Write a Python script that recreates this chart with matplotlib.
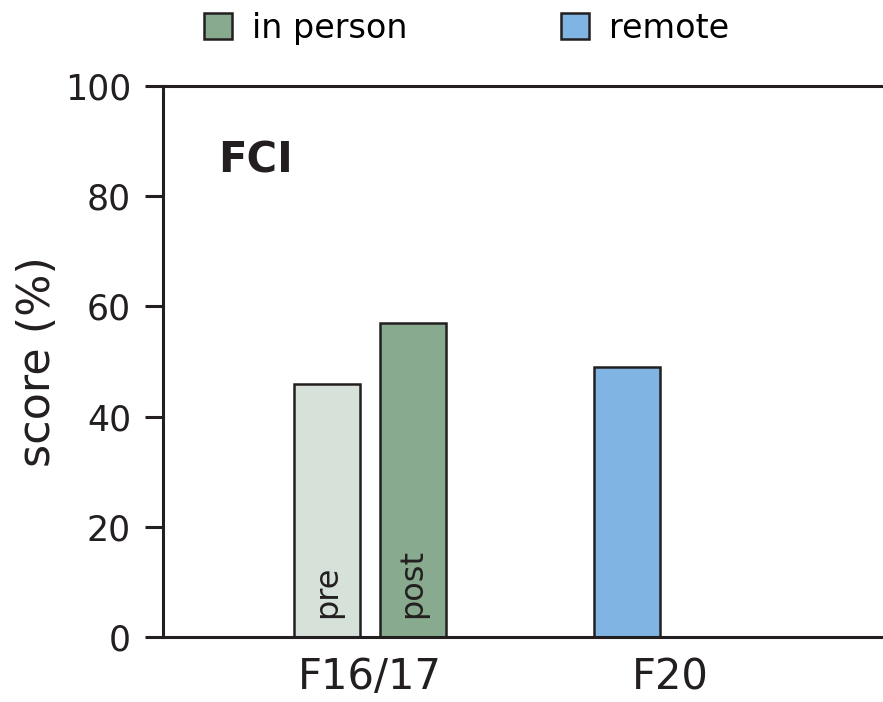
# FCI scores: in person (pre/post) vs remote

import matplotlib.pyplot as plt
from matplotlib.patches import Patch

plt.rcParams['font.family'] = ['DejaVu Sans']

groups = ["F16/17", "F20"]
inperson_pre = 46
inperson_post = 57
remote_pre = 49

c_pre = "#d6e1d9"
c_post = "#88ab8f"
c_remote = "#80b4e2"
edge = "#231f20"

fig = plt.figure(figsize=(8.83, 7.02), dpi=100)
ax = fig.add_axes([0.1846, 0.0926, 0.8154, 0.785])

w = 0.22
off = 0.142
ax.bar(0 - off, inperson_pre, w, color=c_pre, edgecolor=edge, linewidth=1.8)
ax.bar(0 + off, inperson_post, w, color=c_post, edgecolor=edge, linewidth=1.8)
ax.bar(1 - off, remote_pre, w, color=c_remote, edgecolor=edge, linewidth=1.8)

ax.text(0 - off, 3.5, "pre", rotation=90, ha="center", va="bottom", fontsize=23, color=edge)
ax.text(0 + off, 3.5, "post", rotation=90, ha="center", va="bottom", fontsize=23, color=edge)

ax.text(0.076, 0.865, "FCI", transform=ax.transAxes, fontsize=30, fontweight="bold",
        va="center", ha="left", color=edge)

ax.set_xlim(-0.69, 1.71)
ax.set_ylim(0, 100)
ax.set_xticks([0, 1])
ax.set_xticklabels(groups, fontsize=30, color=edge)
ax.tick_params(axis="x", length=0, pad=14)
ax.set_yticks([0, 20, 40, 60, 80, 100])
ax.tick_params(axis="y", labelsize=25, length=13, width=2.2, pad=10, colors=edge)
ax.set_ylabel("score (%)", fontsize=32, color=edge, labelpad=4)

for s in ["left", "top", "bottom"]:
    ax.spines[s].set_linewidth(2.2)
    ax.spines[s].set_color(edge)
ax.spines["right"].set_visible(False)

handles = [Patch(facecolor=c_post, edgecolor=edge, linewidth=1.8, label="in person"),
           Patch(facecolor=c_remote, edgecolor=edge, linewidth=1.8, label="remote")]
fig.legend(handles=handles, loc="upper left", bbox_to_anchor=(0.197, 1.026), ncol=2,
           frameon=False, fontsize=24, handlelength=0.85, handleheight=0.85,
           handletextpad=0.6, columnspacing=4.6)

fig.savefig("out.png", dpi=100)
